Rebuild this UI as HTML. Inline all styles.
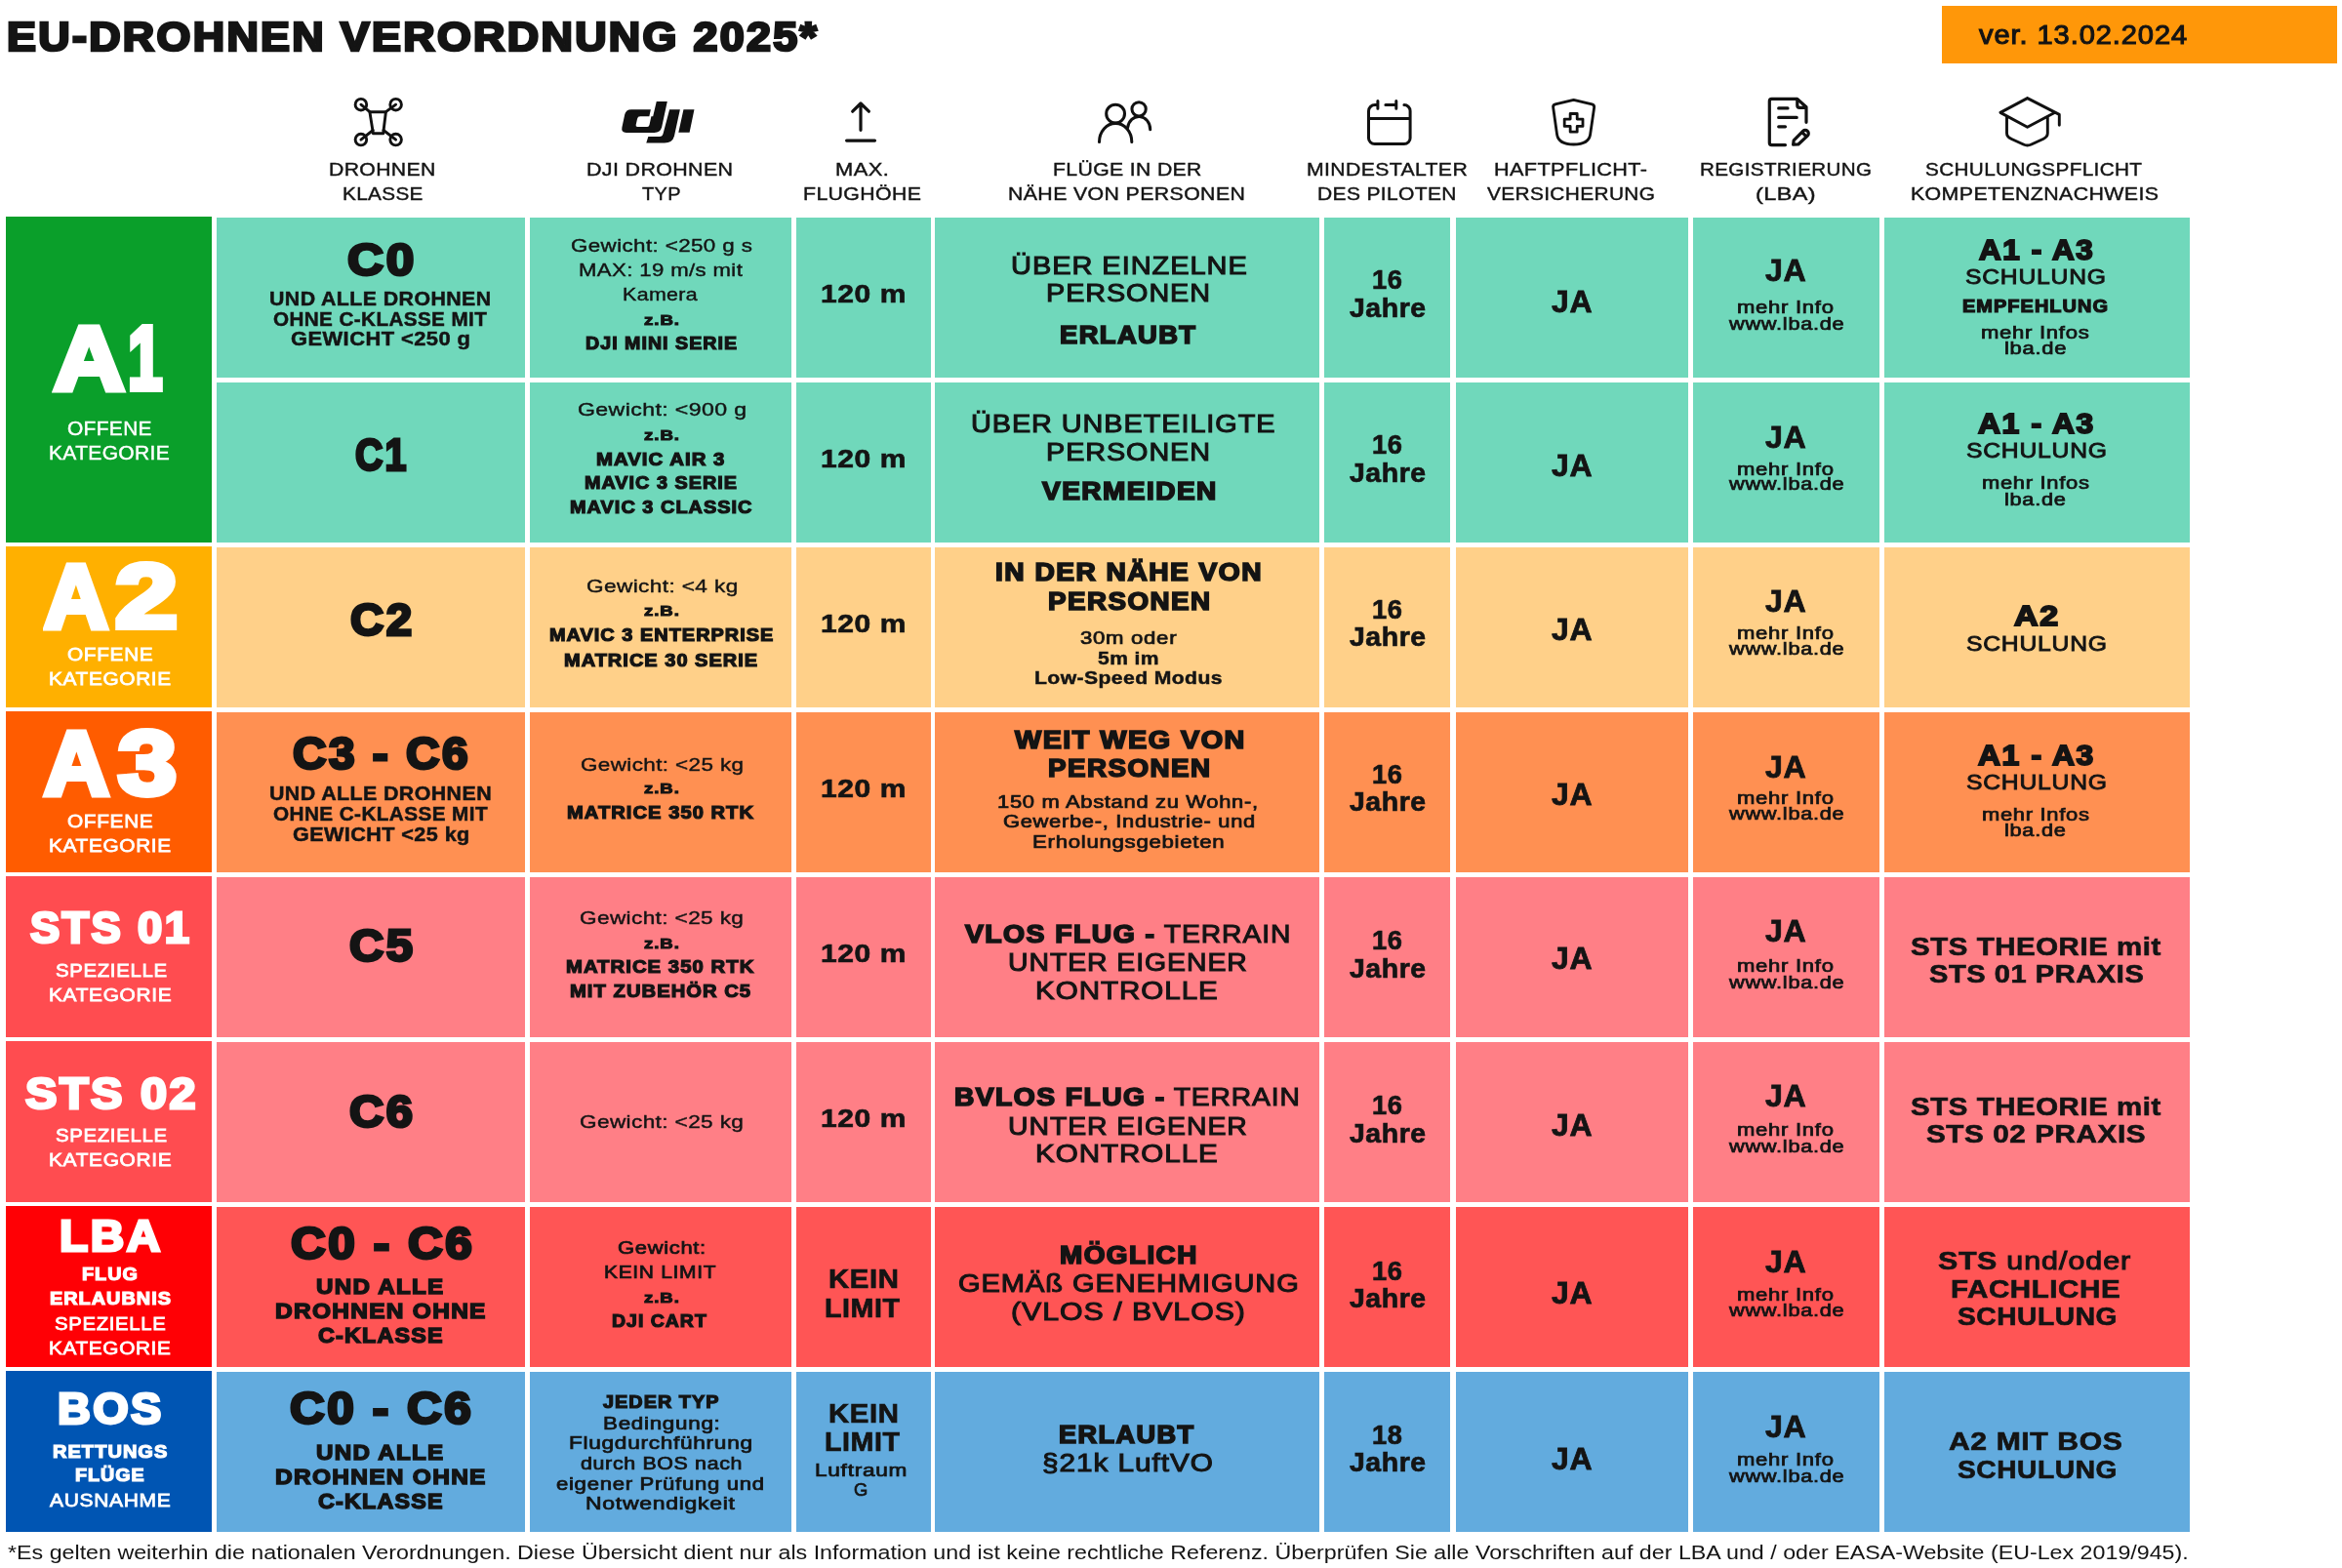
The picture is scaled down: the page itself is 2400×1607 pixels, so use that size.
<!DOCTYPE html>
<html lang="de"><head><meta charset="utf-8"><title>EU-Drohnen Verordnung 2025</title>
<style>
html,body{margin:0;padding:0;background:#fff;}
body{width:2400px;height:1607px;position:relative;overflow:hidden;font-family:"Liberation Sans",sans-serif;}
.c{position:absolute;}
.t{position:absolute;white-space:pre;line-height:1;transform-origin:0 0;color:#141414;font-weight:400;}
#w{position:absolute;left:0;top:0;width:2400px;height:1607px;will-change:transform;}
.b{font-weight:700;}
.w{color:#fff;}
svg{position:absolute;overflow:visible;}
</style></head><body><div id="w">
<div class="c" style="left:6.4px;top:222.0px;width:210.9px;height:334.4px;background:#0a9f2a"></div>
<div class="c" style="left:6.4px;top:560.0px;width:210.9px;height:165.4px;background:#ffb000"></div>
<div class="c" style="left:6.4px;top:729.0px;width:210.9px;height:165.4px;background:#ff5c00"></div>
<div class="c" style="left:6.4px;top:898.0px;width:210.9px;height:165.4px;background:#ff4c50"></div>
<div class="c" style="left:6.4px;top:1067.0px;width:210.9px;height:165.4px;background:#ff4c50"></div>
<div class="c" style="left:6.4px;top:1236.0px;width:210.9px;height:165.4px;background:#ff0005"></div>
<div class="c" style="left:6.4px;top:1405.0px;width:210.9px;height:165.4px;background:#0055b3"></div>
<div class="c" style="left:221.9px;top:222.5px;width:316.5px;height:164.2px;background:#70d8bb"></div>
<div class="c" style="left:542.7px;top:222.5px;width:268.6px;height:164.2px;background:#70d8bb"></div>
<div class="c" style="left:816.0px;top:222.5px;width:137.7px;height:164.2px;background:#70d8bb"></div>
<div class="c" style="left:958.4px;top:222.5px;width:393.9px;height:164.2px;background:#70d8bb"></div>
<div class="c" style="left:1357.2px;top:222.5px;width:129.2px;height:164.2px;background:#70d8bb"></div>
<div class="c" style="left:1491.5px;top:222.5px;width:238.7px;height:164.2px;background:#70d8bb"></div>
<div class="c" style="left:1735.1px;top:222.5px;width:190.9px;height:164.2px;background:#70d8bb"></div>
<div class="c" style="left:1930.7px;top:222.5px;width:313.8px;height:164.2px;background:#70d8bb"></div>
<div class="c" style="left:221.9px;top:391.5px;width:316.5px;height:164.2px;background:#70d8bb"></div>
<div class="c" style="left:542.7px;top:391.5px;width:268.6px;height:164.2px;background:#70d8bb"></div>
<div class="c" style="left:816.0px;top:391.5px;width:137.7px;height:164.2px;background:#70d8bb"></div>
<div class="c" style="left:958.4px;top:391.5px;width:393.9px;height:164.2px;background:#70d8bb"></div>
<div class="c" style="left:1357.2px;top:391.5px;width:129.2px;height:164.2px;background:#70d8bb"></div>
<div class="c" style="left:1491.5px;top:391.5px;width:238.7px;height:164.2px;background:#70d8bb"></div>
<div class="c" style="left:1735.1px;top:391.5px;width:190.9px;height:164.2px;background:#70d8bb"></div>
<div class="c" style="left:1930.7px;top:391.5px;width:313.8px;height:164.2px;background:#70d8bb"></div>
<div class="c" style="left:221.9px;top:560.5px;width:316.5px;height:164.2px;background:#ffd089"></div>
<div class="c" style="left:542.7px;top:560.5px;width:268.6px;height:164.2px;background:#ffd089"></div>
<div class="c" style="left:816.0px;top:560.5px;width:137.7px;height:164.2px;background:#ffd089"></div>
<div class="c" style="left:958.4px;top:560.5px;width:393.9px;height:164.2px;background:#ffd089"></div>
<div class="c" style="left:1357.2px;top:560.5px;width:129.2px;height:164.2px;background:#ffd089"></div>
<div class="c" style="left:1491.5px;top:560.5px;width:238.7px;height:164.2px;background:#ffd089"></div>
<div class="c" style="left:1735.1px;top:560.5px;width:190.9px;height:164.2px;background:#ffd089"></div>
<div class="c" style="left:1930.7px;top:560.5px;width:313.8px;height:164.2px;background:#ffd089"></div>
<div class="c" style="left:221.9px;top:729.5px;width:316.5px;height:164.2px;background:#ff9052"></div>
<div class="c" style="left:542.7px;top:729.5px;width:268.6px;height:164.2px;background:#ff9052"></div>
<div class="c" style="left:816.0px;top:729.5px;width:137.7px;height:164.2px;background:#ff9052"></div>
<div class="c" style="left:958.4px;top:729.5px;width:393.9px;height:164.2px;background:#ff9052"></div>
<div class="c" style="left:1357.2px;top:729.5px;width:129.2px;height:164.2px;background:#ff9052"></div>
<div class="c" style="left:1491.5px;top:729.5px;width:238.7px;height:164.2px;background:#ff9052"></div>
<div class="c" style="left:1735.1px;top:729.5px;width:190.9px;height:164.2px;background:#ff9052"></div>
<div class="c" style="left:1930.7px;top:729.5px;width:313.8px;height:164.2px;background:#ff9052"></div>
<div class="c" style="left:221.9px;top:898.5px;width:316.5px;height:164.2px;background:#ff7f86"></div>
<div class="c" style="left:542.7px;top:898.5px;width:268.6px;height:164.2px;background:#ff7f86"></div>
<div class="c" style="left:816.0px;top:898.5px;width:137.7px;height:164.2px;background:#ff7f86"></div>
<div class="c" style="left:958.4px;top:898.5px;width:393.9px;height:164.2px;background:#ff7f86"></div>
<div class="c" style="left:1357.2px;top:898.5px;width:129.2px;height:164.2px;background:#ff7f86"></div>
<div class="c" style="left:1491.5px;top:898.5px;width:238.7px;height:164.2px;background:#ff7f86"></div>
<div class="c" style="left:1735.1px;top:898.5px;width:190.9px;height:164.2px;background:#ff7f86"></div>
<div class="c" style="left:1930.7px;top:898.5px;width:313.8px;height:164.2px;background:#ff7f86"></div>
<div class="c" style="left:221.9px;top:1067.5px;width:316.5px;height:164.2px;background:#ff7f86"></div>
<div class="c" style="left:542.7px;top:1067.5px;width:268.6px;height:164.2px;background:#ff7f86"></div>
<div class="c" style="left:816.0px;top:1067.5px;width:137.7px;height:164.2px;background:#ff7f86"></div>
<div class="c" style="left:958.4px;top:1067.5px;width:393.9px;height:164.2px;background:#ff7f86"></div>
<div class="c" style="left:1357.2px;top:1067.5px;width:129.2px;height:164.2px;background:#ff7f86"></div>
<div class="c" style="left:1491.5px;top:1067.5px;width:238.7px;height:164.2px;background:#ff7f86"></div>
<div class="c" style="left:1735.1px;top:1067.5px;width:190.9px;height:164.2px;background:#ff7f86"></div>
<div class="c" style="left:1930.7px;top:1067.5px;width:313.8px;height:164.2px;background:#ff7f86"></div>
<div class="c" style="left:221.9px;top:1236.5px;width:316.5px;height:164.2px;background:#ff5555"></div>
<div class="c" style="left:542.7px;top:1236.5px;width:268.6px;height:164.2px;background:#ff5555"></div>
<div class="c" style="left:816.0px;top:1236.5px;width:137.7px;height:164.2px;background:#ff5555"></div>
<div class="c" style="left:958.4px;top:1236.5px;width:393.9px;height:164.2px;background:#ff5555"></div>
<div class="c" style="left:1357.2px;top:1236.5px;width:129.2px;height:164.2px;background:#ff5555"></div>
<div class="c" style="left:1491.5px;top:1236.5px;width:238.7px;height:164.2px;background:#ff5555"></div>
<div class="c" style="left:1735.1px;top:1236.5px;width:190.9px;height:164.2px;background:#ff5555"></div>
<div class="c" style="left:1930.7px;top:1236.5px;width:313.8px;height:164.2px;background:#ff5555"></div>
<div class="c" style="left:221.9px;top:1405.5px;width:316.5px;height:164.2px;background:#62abde"></div>
<div class="c" style="left:542.7px;top:1405.5px;width:268.6px;height:164.2px;background:#62abde"></div>
<div class="c" style="left:816.0px;top:1405.5px;width:137.7px;height:164.2px;background:#62abde"></div>
<div class="c" style="left:958.4px;top:1405.5px;width:393.9px;height:164.2px;background:#62abde"></div>
<div class="c" style="left:1357.2px;top:1405.5px;width:129.2px;height:164.2px;background:#62abde"></div>
<div class="c" style="left:1491.5px;top:1405.5px;width:238.7px;height:164.2px;background:#62abde"></div>
<div class="c" style="left:1735.1px;top:1405.5px;width:190.9px;height:164.2px;background:#62abde"></div>
<div class="c" style="left:1930.7px;top:1405.5px;width:313.8px;height:164.2px;background:#62abde"></div>
<div class="c" style="left:1990.0px;top:6.0px;width:405.0px;height:59.4px;background:#ff9709"></div>
<svg style="left:0;top:0" width="2400" height="220" viewBox="0 0 2400 220" fill="none" stroke="#111" stroke-linecap="round" stroke-linejoin="round">
<g stroke-width="2.9"><circle cx="369.9" cy="107.2" r="5.8"/><circle cx="405.6" cy="107.2" r="5.8"/><circle cx="369.9" cy="143.1" r="5.8"/><circle cx="405.6" cy="143.1" r="5.8"/><path d="M378.9 114.7 H395.4 L392.7 136.7 H382.4 Z"/><path d="M369.9 107.2 L378.9 114.7 M405.6 107.2 L395.4 114.7 M369.9 143.1 L382.2 133.5 M405.6 143.1 L393 133.5"/></g>
<path fill="#111" stroke="none" d="M 672.77 104.12 H 683.79 L 678.15 130.35 Q 676.77 135.99 670.47 135.99 H 641.78 Q 636.29 135.99 637.42 130.61 L 640.24 117.29 Q 641.37 112.16 646.90 112.16 H 666.88 L 665.35 119.34 H 656.12 Q 653.56 119.34 653.05 121.64 L 651.66 128.05 Q 651.25 129.94 653.30 129.94 H 663.30 Q 665.09 129.94 665.50 128.05 L 667.39 119.34 H 669.19 Z M 686.10 112.16 H 696.86 L 690.96 139.58 Q 689.17 146.49 680.97 146.49 H 662.27 L 664.32 140.09 H 675.85 Q 678.92 140.09 679.69 136.50 Z M 700.44 112.16 H 711.46 L 706.59 135.73 H 695.32 Z"/>
<path stroke-width="3.2" d="M873.7 114.2 L882 106 L890.4 114.2 M882 106.5 V133.3 M867.6 144.1 H896.5"/>
<g stroke-width="3.05"><circle cx="1143.1" cy="116.6" r="9.4"/><path d="M1126.5 145.5 A16.65 19.1 0 0 1 1159.8 145.5"/><circle cx="1167.1" cy="111.8" r="7.15"/><path d="M1178.7 132.7 A11.6 13.2 0 0 0 1155.6 130.9"/></g>
<path stroke-width="3" d="M1411.9 107.5 H1409 A6.5 6.5 0 0 0 1402.5 114 V141.4 A6.2 6.2 0 0 0 1408.7 147.6 H1438.9 A6.2 6.2 0 0 0 1445.1 141.4 V113.7 A6.2 6.2 0 0 0 1438.9 107.5 M1430.8 107.5 H1419.9 M1411.9 103.6 V111.3 M1430.8 103.6 V111.3 M1402.5 121.5 H1445.1"/>
<path stroke-width="2.8" d="M1612.6 102.3 L1631.5 106.9 Q1634.2 107.7 1633.6 110.5 L1629.6 138 Q1628 148 1612.6 148 Q1597.2 148 1595.6 138 L1591.7 110.5 Q1591 107.7 1593.7 106.9 Z M1609.15 116.5 H1616.2 V122.1 H1622 V129.4 H1616.2 V135.2 H1609.15 V129.4 H1603.2 V122.1 H1609.15 Z"/>
<path stroke-width="3.2" d="M1829.5 148.6 H1815.6 A2.3 2.3 0 0 1 1813.3 146.3 V103.7 A2.3 2.3 0 0 1 1815.6 101.4 H1841.8 L1851 109.7 V125.3 M1841.8 101.8 V108 A2.3 2.3 0 0 0 1844.1 110.3 H1850.8 M1822.7 110.9 H1832 M1822.7 120.4 H1841.2 M1822.7 129.8 H1829.5"/>
<path stroke-width="3.2" d="M1837.6 148.2 L1838.2 143.8 L1847.6 134.4 A3.3 3.3 0 0 1 1852.3 134.4 A3.3 3.3 0 0 1 1852.3 139.1 L1842.8 148 Z M1846.6 135.4 L1851.3 140.1"/>
<path stroke-width="2.9" d="M2077.6 100.6 L2049.9 115.4 L2077.6 130.2 L2105.9 115.2 M2077.6 100.6 L2110.3 117.4 V128.2 M2056.5 120.1 V136.6 Q2056.5 140.3 2060.9 142.2 L2073.5 148 Q2077.6 150 2081.7 148 L2094.2 142.2 Q2098.3 140.3 2098.3 136.6 V120.1"/>
</svg>
<div class="t" style="left:336.72px;top:164px;font-size:19.01px;transform:scaleX(1.1151);letter-spacing:0.33px;-webkit-text-stroke:0.42px #141414;">DROHNEN</div>
<div class="t" style="left:350.54px;top:189px;font-size:19.01px;transform:scaleX(1.0908);letter-spacing:0.33px;-webkit-text-stroke:0.42px #141414;">KLASSE</div>
<div class="t" style="left:601.01px;top:164px;font-size:19.01px;transform:scaleX(1.1268);letter-spacing:0.33px;-webkit-text-stroke:0.42px #141414;">DJI DROHNEN</div>
<div class="t" style="left:657.82px;top:189px;font-size:19.01px;transform:scaleX(1.0491);letter-spacing:0.33px;-webkit-text-stroke:0.42px #141414;">TYP</div>
<div class="t" style="left:856.49px;top:164px;font-size:19.01px;transform:scaleX(1.1536);letter-spacing:0.33px;-webkit-text-stroke:0.42px #141414;">MAX.</div>
<div class="t" style="left:823.01px;top:189px;font-size:19.01px;transform:scaleX(1.1214);letter-spacing:0.33px;-webkit-text-stroke:0.42px #141414;">FLUGHÖHE</div>
<div class="t" style="left:1078.52px;top:164px;font-size:19.01px;transform:scaleX(1.1152);letter-spacing:0.33px;-webkit-text-stroke:0.42px #141414;">FLÜGE IN DER</div>
<div class="t" style="left:1033.11px;top:189px;font-size:19.01px;transform:scaleX(1.1222);letter-spacing:0.33px;-webkit-text-stroke:0.42px #141414;">NÄHE VON PERSONEN</div>
<div class="t" style="left:1338.82px;top:164px;font-size:19.01px;transform:scaleX(1.1162);letter-spacing:0.33px;-webkit-text-stroke:0.42px #141414;">MINDESTALTER</div>
<div class="t" style="left:1349.73px;top:189px;font-size:19.01px;transform:scaleX(1.1050);letter-spacing:0.33px;-webkit-text-stroke:0.42px #141414;">DES PILOTEN</div>
<div class="t" style="left:1531.10px;top:164px;font-size:19.01px;transform:scaleX(1.1401);letter-spacing:0.33px;-webkit-text-stroke:0.42px #141414;">HAFTPFLICHT-</div>
<div class="t" style="left:1524.23px;top:189px;font-size:19.01px;transform:scaleX(1.0972);letter-spacing:0.33px;-webkit-text-stroke:0.42px #141414;">VERSICHERUNG</div>
<div class="t" style="left:1741.54px;top:164px;font-size:19.01px;transform:scaleX(1.0845);letter-spacing:0.33px;-webkit-text-stroke:0.42px #141414;">REGISTRIERUNG</div>
<div class="t" style="left:1798.82px;top:189px;font-size:19.01px;transform:scaleX(1.2348);letter-spacing:0.33px;-webkit-text-stroke:0.42px #141414;">(LBA)</div>
<div class="t" style="left:1973.23px;top:164px;font-size:19.01px;transform:scaleX(1.0915);letter-spacing:0.33px;-webkit-text-stroke:0.42px #141414;">SCHULUNGSPFLICHT</div>
<div class="t" style="left:1957.81px;top:189px;font-size:19.01px;transform:scaleX(1.1245);letter-spacing:0.33px;-webkit-text-stroke:0.42px #141414;">KOMPETENZNACHWEIS</div>
<div class="t b" style="left:841.05px;top:288px;font-size:26.65px;transform:scaleX(1.1251);letter-spacing:0.53px;-webkit-text-stroke:0.67px #141414;">120 m</div>
<div class="t b" style="left:1406.43px;top:274px;font-size:26.93px;transform:scaleX(1.0111);letter-spacing:0.54px;-webkit-text-stroke:0.67px #141414;">16</div>
<div class="t b" style="left:1383.16px;top:303px;font-size:26.93px;transform:scaleX(1.0554);letter-spacing:0.54px;-webkit-text-stroke:0.67px #141414;">Jahre</div>
<div class="t b" style="left:1589.70px;top:293px;font-size:32.26px;transform:scaleX(0.9909);letter-spacing:0.65px;-webkit-text-stroke:0.81px #141414;">JA</div>
<div class="t b" style="left:1809.00px;top:261px;font-size:32.26px;transform:scaleX(0.9979);letter-spacing:0.65px;-webkit-text-stroke:0.81px #141414;">JA</div>
<div class="t" style="left:1779.61px;top:307px;font-size:17.86px;transform:scaleX(1.2366);letter-spacing:0.57px;-webkit-text-stroke:0.71px #141414;">mehr Info</div>
<div class="t" style="left:1771.86px;top:324px;font-size:17.86px;transform:scaleX(1.2202);letter-spacing:0.57px;-webkit-text-stroke:0.71px #141414;">www.lba.de</div>
<div class="t b" style="left:841.05px;top:457px;font-size:26.65px;transform:scaleX(1.1251);letter-spacing:0.53px;-webkit-text-stroke:0.67px #141414;">120 m</div>
<div class="t b" style="left:1406.43px;top:443px;font-size:26.93px;transform:scaleX(1.0111);letter-spacing:0.54px;-webkit-text-stroke:0.67px #141414;">16</div>
<div class="t b" style="left:1383.16px;top:472px;font-size:26.93px;transform:scaleX(1.0554);letter-spacing:0.54px;-webkit-text-stroke:0.67px #141414;">Jahre</div>
<div class="t b" style="left:1589.70px;top:461px;font-size:32.26px;transform:scaleX(0.9909);letter-spacing:0.65px;-webkit-text-stroke:0.81px #141414;">JA</div>
<div class="t b" style="left:1809.00px;top:432px;font-size:32.26px;transform:scaleX(0.9979);letter-spacing:0.65px;-webkit-text-stroke:0.81px #141414;">JA</div>
<div class="t" style="left:1779.61px;top:473px;font-size:17.86px;transform:scaleX(1.2366);letter-spacing:0.57px;-webkit-text-stroke:0.71px #141414;">mehr Info</div>
<div class="t" style="left:1771.86px;top:488px;font-size:17.86px;transform:scaleX(1.2202);letter-spacing:0.57px;-webkit-text-stroke:0.71px #141414;">www.lba.de</div>
<div class="t b" style="left:841.05px;top:626px;font-size:26.65px;transform:scaleX(1.1251);letter-spacing:0.53px;-webkit-text-stroke:0.67px #141414;">120 m</div>
<div class="t b" style="left:1406.43px;top:612px;font-size:26.93px;transform:scaleX(1.0111);letter-spacing:0.54px;-webkit-text-stroke:0.67px #141414;">16</div>
<div class="t b" style="left:1383.16px;top:640px;font-size:26.93px;transform:scaleX(1.0554);letter-spacing:0.54px;-webkit-text-stroke:0.67px #141414;">Jahre</div>
<div class="t b" style="left:1589.70px;top:629px;font-size:32.26px;transform:scaleX(0.9909);letter-spacing:0.65px;-webkit-text-stroke:0.81px #141414;">JA</div>
<div class="t b" style="left:1809.00px;top:600px;font-size:32.26px;transform:scaleX(0.9979);letter-spacing:0.65px;-webkit-text-stroke:0.81px #141414;">JA</div>
<div class="t" style="left:1779.61px;top:641px;font-size:17.86px;transform:scaleX(1.2366);letter-spacing:0.57px;-webkit-text-stroke:0.71px #141414;">mehr Info</div>
<div class="t" style="left:1771.86px;top:657px;font-size:17.86px;transform:scaleX(1.2202);letter-spacing:0.57px;-webkit-text-stroke:0.71px #141414;">www.lba.de</div>
<div class="t b" style="left:841.05px;top:795px;font-size:26.65px;transform:scaleX(1.1251);letter-spacing:0.53px;-webkit-text-stroke:0.67px #141414;">120 m</div>
<div class="t b" style="left:1406.43px;top:781px;font-size:26.93px;transform:scaleX(1.0111);letter-spacing:0.54px;-webkit-text-stroke:0.67px #141414;">16</div>
<div class="t b" style="left:1383.16px;top:809px;font-size:26.93px;transform:scaleX(1.0554);letter-spacing:0.54px;-webkit-text-stroke:0.67px #141414;">Jahre</div>
<div class="t b" style="left:1589.70px;top:798px;font-size:32.26px;transform:scaleX(0.9909);letter-spacing:0.65px;-webkit-text-stroke:0.81px #141414;">JA</div>
<div class="t b" style="left:1809.00px;top:770px;font-size:32.26px;transform:scaleX(0.9979);letter-spacing:0.65px;-webkit-text-stroke:0.81px #141414;">JA</div>
<div class="t" style="left:1779.61px;top:810px;font-size:17.86px;transform:scaleX(1.2366);letter-spacing:0.57px;-webkit-text-stroke:0.71px #141414;">mehr Info</div>
<div class="t" style="left:1771.86px;top:826px;font-size:17.86px;transform:scaleX(1.2202);letter-spacing:0.57px;-webkit-text-stroke:0.71px #141414;">www.lba.de</div>
<div class="t b" style="left:841.05px;top:964px;font-size:26.65px;transform:scaleX(1.1251);letter-spacing:0.53px;-webkit-text-stroke:0.67px #141414;">120 m</div>
<div class="t b" style="left:1406.43px;top:951px;font-size:26.93px;transform:scaleX(1.0111);letter-spacing:0.54px;-webkit-text-stroke:0.67px #141414;">16</div>
<div class="t b" style="left:1383.16px;top:980px;font-size:26.93px;transform:scaleX(1.0554);letter-spacing:0.54px;-webkit-text-stroke:0.67px #141414;">Jahre</div>
<div class="t b" style="left:1589.70px;top:966px;font-size:32.26px;transform:scaleX(0.9909);letter-spacing:0.65px;-webkit-text-stroke:0.81px #141414;">JA</div>
<div class="t b" style="left:1809.00px;top:938px;font-size:32.26px;transform:scaleX(0.9979);letter-spacing:0.65px;-webkit-text-stroke:0.81px #141414;">JA</div>
<div class="t" style="left:1779.61px;top:982px;font-size:17.86px;transform:scaleX(1.2366);letter-spacing:0.57px;-webkit-text-stroke:0.71px #141414;">mehr Info</div>
<div class="t" style="left:1771.86px;top:999px;font-size:17.86px;transform:scaleX(1.2202);letter-spacing:0.57px;-webkit-text-stroke:0.71px #141414;">www.lba.de</div>
<div class="t b" style="left:841.05px;top:1133px;font-size:26.65px;transform:scaleX(1.1251);letter-spacing:0.53px;-webkit-text-stroke:0.67px #141414;">120 m</div>
<div class="t b" style="left:1406.43px;top:1120px;font-size:26.93px;transform:scaleX(1.0111);letter-spacing:0.54px;-webkit-text-stroke:0.67px #141414;">16</div>
<div class="t b" style="left:1383.16px;top:1149px;font-size:26.93px;transform:scaleX(1.0554);letter-spacing:0.54px;-webkit-text-stroke:0.67px #141414;">Jahre</div>
<div class="t b" style="left:1589.70px;top:1137px;font-size:32.26px;transform:scaleX(0.9909);letter-spacing:0.65px;-webkit-text-stroke:0.81px #141414;">JA</div>
<div class="t b" style="left:1809.00px;top:1107px;font-size:32.26px;transform:scaleX(0.9979);letter-spacing:0.65px;-webkit-text-stroke:0.81px #141414;">JA</div>
<div class="t" style="left:1779.61px;top:1150px;font-size:17.86px;transform:scaleX(1.2366);letter-spacing:0.57px;-webkit-text-stroke:0.71px #141414;">mehr Info</div>
<div class="t" style="left:1771.86px;top:1167px;font-size:17.86px;transform:scaleX(1.2202);letter-spacing:0.57px;-webkit-text-stroke:0.71px #141414;">www.lba.de</div>
<div class="t b" style="left:1406.43px;top:1290px;font-size:26.93px;transform:scaleX(1.0111);letter-spacing:0.54px;-webkit-text-stroke:0.67px #141414;">16</div>
<div class="t b" style="left:1383.16px;top:1318px;font-size:26.93px;transform:scaleX(1.0554);letter-spacing:0.54px;-webkit-text-stroke:0.67px #141414;">Jahre</div>
<div class="t b" style="left:1589.70px;top:1309px;font-size:32.26px;transform:scaleX(0.9909);letter-spacing:0.65px;-webkit-text-stroke:0.81px #141414;">JA</div>
<div class="t b" style="left:1809.00px;top:1277px;font-size:32.26px;transform:scaleX(0.9979);letter-spacing:0.65px;-webkit-text-stroke:0.81px #141414;">JA</div>
<div class="t" style="left:1779.61px;top:1319px;font-size:17.86px;transform:scaleX(1.2366);letter-spacing:0.57px;-webkit-text-stroke:0.71px #141414;">mehr Info</div>
<div class="t" style="left:1771.86px;top:1335px;font-size:17.86px;transform:scaleX(1.2202);letter-spacing:0.57px;-webkit-text-stroke:0.71px #141414;">www.lba.de</div>
<div class="t b" style="left:1405.93px;top:1458px;font-size:26.93px;transform:scaleX(1.0107);letter-spacing:0.54px;-webkit-text-stroke:0.67px #141414;">18</div>
<div class="t b" style="left:1383.16px;top:1486px;font-size:26.93px;transform:scaleX(1.0554);letter-spacing:0.54px;-webkit-text-stroke:0.67px #141414;">Jahre</div>
<div class="t b" style="left:1589.70px;top:1479px;font-size:32.26px;transform:scaleX(0.9909);letter-spacing:0.65px;-webkit-text-stroke:0.81px #141414;">JA</div>
<div class="t b" style="left:1809.00px;top:1446px;font-size:32.26px;transform:scaleX(0.9979);letter-spacing:0.65px;-webkit-text-stroke:0.81px #141414;">JA</div>
<div class="t" style="left:1779.61px;top:1488px;font-size:17.86px;transform:scaleX(1.2366);letter-spacing:0.57px;-webkit-text-stroke:0.71px #141414;">mehr Info</div>
<div class="t" style="left:1771.86px;top:1505px;font-size:17.86px;transform:scaleX(1.2202);letter-spacing:0.57px;-webkit-text-stroke:0.71px #141414;">www.lba.de</div>
<div class="t b" style="left:355.63px;top:242px;font-size:47.15px;transform:scaleX(1.0889);letter-spacing:2.45px;-webkit-text-stroke:3.06px #141414;">C0</div>
<div class="t b" style="left:275.57px;top:297px;font-size:19.36px;transform:scaleX(1.1010);letter-spacing:0.39px;-webkit-text-stroke:0.48px #141414;">UND ALLE DROHNEN</div>
<div class="t b" style="left:279.96px;top:318px;font-size:19.36px;transform:scaleX(1.0663);letter-spacing:0.39px;-webkit-text-stroke:0.48px #141414;">OHNE C-KLASSE MIT</div>
<div class="t b" style="left:297.97px;top:338px;font-size:19.36px;transform:scaleX(1.1309);letter-spacing:0.39px;-webkit-text-stroke:0.48px #141414;">GEWICHT &lt;250 g</div>
<div class="t" style="left:585.05px;top:243px;font-size:18.31px;transform:scaleX(1.2220);letter-spacing:0.32px;-webkit-text-stroke:0.40px #141414;">Gewicht: &lt;250 g s</div>
<div class="t" style="left:593.33px;top:268px;font-size:18.31px;transform:scaleX(1.2099);letter-spacing:0.32px;-webkit-text-stroke:0.40px #141414;">MAX: 19 m/s mit</div>
<div class="t" style="left:638.07px;top:293px;font-size:18.31px;transform:scaleX(1.1684);letter-spacing:0.32px;-webkit-text-stroke:0.40px #141414;">Kamera</div>
<div class="t b" style="left:659.61px;top:320px;font-size:15.54px;transform:scaleX(1.1984);letter-spacing:0.81px;-webkit-text-stroke:1.01px #141414;">z.B.</div>
<div class="t b" style="left:599.78px;top:343px;font-size:18.59px;transform:scaleX(1.0560);letter-spacing:0.97px;-webkit-text-stroke:1.21px #141414;">DJI MINI SERIE</div>
<div class="t" style="left:1035.89px;top:260px;font-size:25.55px;transform:scaleX(1.1361);letter-spacing:0.82px;-webkit-text-stroke:1.02px #141414;">ÜBER EINZELNE</div>
<div class="t" style="left:1072.32px;top:288px;font-size:25.55px;transform:scaleX(1.1269);letter-spacing:0.82px;-webkit-text-stroke:1.02px #141414;">PERSONEN</div>
<div class="t b" style="left:1085.97px;top:331px;font-size:25.63px;transform:scaleX(1.0660);letter-spacing:1.33px;-webkit-text-stroke:1.67px #141414;">ERLAUBT</div>
<div class="t b" style="left:2027.77px;top:241px;font-size:30.28px;transform:scaleX(1.0369);letter-spacing:1.57px;-webkit-text-stroke:1.97px #141414;">A1 - A3</div>
<div class="t" style="left:2014.49px;top:273px;font-size:21.70px;transform:scaleX(1.1377);letter-spacing:0.69px;-webkit-text-stroke:0.87px #141414;">SCHULUNG</div>
<div class="t b" style="left:2011.06px;top:305px;font-size:18.33px;transform:scaleX(1.0884);letter-spacing:0.95px;-webkit-text-stroke:1.19px #141414;">EMPFEHLUNG</div>
<div class="t" style="left:2030.20px;top:333px;font-size:17.86px;transform:scaleX(1.2372);letter-spacing:0.57px;-webkit-text-stroke:0.71px #141414;">mehr Infos</div>
<div class="t" style="left:2053.56px;top:349px;font-size:17.86px;transform:scaleX(1.2309);letter-spacing:0.57px;-webkit-text-stroke:0.71px #141414;">lba.de</div>
<div class="t b" style="left:363.94px;top:442px;font-size:47.15px;transform:scaleX(0.8340);letter-spacing:2.45px;-webkit-text-stroke:3.06px #141414;">C1</div>
<div class="t" style="left:592.05px;top:411px;font-size:18.31px;transform:scaleX(1.2618);letter-spacing:0.32px;-webkit-text-stroke:0.40px #141414;">Gewicht: &lt;900 g</div>
<div class="t b" style="left:659.61px;top:438px;font-size:15.54px;transform:scaleX(1.1984);letter-spacing:0.81px;-webkit-text-stroke:1.01px #141414;">z.B.</div>
<div class="t b" style="left:611.37px;top:462px;font-size:18.59px;transform:scaleX(1.0938);letter-spacing:0.97px;-webkit-text-stroke:1.21px #141414;">MAVIC AIR 3</div>
<div class="t b" style="left:599.08px;top:486px;font-size:18.59px;transform:scaleX(1.0649);letter-spacing:0.97px;-webkit-text-stroke:1.21px #141414;">MAVIC 3 SERIE</div>
<div class="t b" style="left:584.38px;top:511px;font-size:18.59px;transform:scaleX(1.0701);letter-spacing:0.97px;-webkit-text-stroke:1.21px #141414;">MAVIC 3 CLASSIC</div>
<div class="t" style="left:995.40px;top:422px;font-size:25.55px;transform:scaleX(1.1296);letter-spacing:0.82px;-webkit-text-stroke:1.02px #141414;">ÜBER UNBETEILIGTE</div>
<div class="t" style="left:1072.32px;top:451px;font-size:25.55px;transform:scaleX(1.1269);letter-spacing:0.82px;-webkit-text-stroke:1.02px #141414;">PERSONEN</div>
<div class="t b" style="left:1067.86px;top:491px;font-size:25.63px;transform:scaleX(1.0939);letter-spacing:1.33px;-webkit-text-stroke:1.67px #141414;">VERMEIDEN</div>
<div class="t b" style="left:2027.48px;top:419px;font-size:30.28px;transform:scaleX(1.0509);letter-spacing:1.57px;-webkit-text-stroke:1.97px #141414;">A1 - A3</div>
<div class="t" style="left:2014.94px;top:451px;font-size:21.70px;transform:scaleX(1.1385);letter-spacing:0.69px;-webkit-text-stroke:0.87px #141414;">SCHULUNG</div>
<div class="t" style="left:2030.91px;top:487px;font-size:17.86px;transform:scaleX(1.2283);letter-spacing:0.57px;-webkit-text-stroke:0.71px #141414;">mehr Infos</div>
<div class="t" style="left:2053.67px;top:504px;font-size:17.86px;transform:scaleX(1.2192);letter-spacing:0.57px;-webkit-text-stroke:0.71px #141414;">lba.de</div>
<div class="t b" style="left:358.64px;top:611px;font-size:47.15px;transform:scaleX(1.0071);letter-spacing:2.45px;-webkit-text-stroke:3.06px #141414;">C2</div>
<div class="t" style="left:600.75px;top:592px;font-size:18.31px;transform:scaleX(1.2349);letter-spacing:0.32px;-webkit-text-stroke:0.40px #141414;">Gewicht: &lt;4 kg</div>
<div class="t b" style="left:660.00px;top:618px;font-size:15.54px;transform:scaleX(1.1919);letter-spacing:0.81px;-webkit-text-stroke:1.01px #141414;">z.B.</div>
<div class="t b" style="left:562.88px;top:642px;font-size:18.59px;transform:scaleX(1.0700);letter-spacing:0.97px;-webkit-text-stroke:1.21px #141414;">MAVIC 3 ENTERPRISE</div>
<div class="t b" style="left:578.18px;top:668px;font-size:18.59px;transform:scaleX(1.0738);letter-spacing:0.97px;-webkit-text-stroke:1.21px #141414;">MATRICE 30 SERIE</div>
<div class="t b" style="left:1020.05px;top:574px;font-size:25.23px;transform:scaleX(1.1176);letter-spacing:1.31px;-webkit-text-stroke:1.64px #141414;">IN DER NÄHE VON</div>
<div class="t b" style="left:1073.60px;top:604px;font-size:25.23px;transform:scaleX(1.1016);letter-spacing:1.31px;-webkit-text-stroke:1.64px #141414;">PERSONEN</div>
<div class="t" style="left:1106.84px;top:646px;font-size:17.86px;transform:scaleX(1.2401);letter-spacing:0.57px;-webkit-text-stroke:0.71px #141414;">30m oder</div>
<div class="t b" style="left:1125.06px;top:666px;font-size:18.23px;transform:scaleX(1.1569);letter-spacing:0.36px;-webkit-text-stroke:0.46px #141414;">5m im</div>
<div class="t b" style="left:1059.70px;top:686px;font-size:18.23px;transform:scaleX(1.1599);letter-spacing:0.36px;-webkit-text-stroke:0.46px #141414;">Low-Speed Modus</div>
<div class="t b" style="left:2064.41px;top:616px;font-size:30.28px;transform:scaleX(1.1232);letter-spacing:1.57px;-webkit-text-stroke:1.97px #141414;">A2</div>
<div class="t" style="left:2014.94px;top:649px;font-size:21.70px;transform:scaleX(1.1385);letter-spacing:0.69px;-webkit-text-stroke:0.87px #141414;">SCHULUNG</div>
<div class="t b" style="left:299.84px;top:748px;font-size:47.15px;transform:scaleX(1.0139);letter-spacing:2.45px;-webkit-text-stroke:3.06px #141414;">C3 - C6</div>
<div class="t b" style="left:276.16px;top:804px;font-size:19.36px;transform:scaleX(1.1034);letter-spacing:0.39px;-webkit-text-stroke:0.48px #141414;">UND ALLE DROHNEN</div>
<div class="t b" style="left:280.46px;top:825px;font-size:19.36px;transform:scaleX(1.0701);letter-spacing:0.39px;-webkit-text-stroke:0.48px #141414;">OHNE C-KLASSE MIT</div>
<div class="t b" style="left:300.17px;top:846px;font-size:19.36px;transform:scaleX(1.1143);letter-spacing:0.39px;-webkit-text-stroke:0.48px #141414;">GEWICHT &lt;25 kg</div>
<div class="t" style="left:594.75px;top:775px;font-size:18.31px;transform:scaleX(1.2263);letter-spacing:0.32px;-webkit-text-stroke:0.40px #141414;">Gewicht: &lt;25 kg</div>
<div class="t b" style="left:660.00px;top:800px;font-size:15.54px;transform:scaleX(1.1919);letter-spacing:0.81px;-webkit-text-stroke:1.01px #141414;">z.B.</div>
<div class="t b" style="left:581.07px;top:824px;font-size:18.59px;transform:scaleX(1.0832);letter-spacing:0.97px;-webkit-text-stroke:1.21px #141414;">MATRICE 350 RTK</div>
<div class="t b" style="left:1039.54px;top:746px;font-size:25.23px;transform:scaleX(1.1402);letter-spacing:1.31px;-webkit-text-stroke:1.64px #141414;">WEIT WEG VON</div>
<div class="t b" style="left:1073.60px;top:775px;font-size:25.23px;transform:scaleX(1.1016);letter-spacing:1.31px;-webkit-text-stroke:1.64px #141414;">PERSONEN</div>
<div class="t" style="left:1022.41px;top:814px;font-size:17.86px;transform:scaleX(1.2268);letter-spacing:0.57px;-webkit-text-stroke:0.71px #141414;">150 m Abstand zu Wohn-,</div>
<div class="t" style="left:1027.64px;top:834px;font-size:17.86px;transform:scaleX(1.2258);letter-spacing:0.57px;-webkit-text-stroke:0.71px #141414;">Gewerbe-, Industrie- und</div>
<div class="t" style="left:1057.95px;top:855px;font-size:17.86px;transform:scaleX(1.2440);letter-spacing:0.57px;-webkit-text-stroke:0.71px #141414;">Erholungsgebieten</div>
<div class="t b" style="left:2027.48px;top:759px;font-size:30.28px;transform:scaleX(1.0509);letter-spacing:1.57px;-webkit-text-stroke:1.97px #141414;">A1 - A3</div>
<div class="t" style="left:2014.94px;top:791px;font-size:21.70px;transform:scaleX(1.1385);letter-spacing:0.69px;-webkit-text-stroke:0.87px #141414;">SCHULUNG</div>
<div class="t" style="left:2030.91px;top:827px;font-size:17.86px;transform:scaleX(1.2283);letter-spacing:0.57px;-webkit-text-stroke:0.71px #141414;">mehr Infos</div>
<div class="t" style="left:2053.67px;top:843px;font-size:17.86px;transform:scaleX(1.2192);letter-spacing:0.57px;-webkit-text-stroke:0.71px #141414;">lba.de</div>
<div class="t b" style="left:358.05px;top:945px;font-size:47.15px;transform:scaleX(1.0370);letter-spacing:2.45px;-webkit-text-stroke:3.06px #141414;">C5</div>
<div class="t" style="left:593.75px;top:932px;font-size:18.31px;transform:scaleX(1.2330);letter-spacing:0.32px;-webkit-text-stroke:0.40px #141414;">Gewicht: &lt;25 kg</div>
<div class="t b" style="left:659.80px;top:959px;font-size:15.54px;transform:scaleX(1.1919);letter-spacing:0.81px;-webkit-text-stroke:1.01px #141414;">z.B.</div>
<div class="t b" style="left:580.37px;top:982px;font-size:18.59px;transform:scaleX(1.0905);letter-spacing:0.97px;-webkit-text-stroke:1.21px #141414;">MATRICE 350 RTK</div>
<div class="t b" style="left:584.17px;top:1007px;font-size:18.59px;transform:scaleX(1.0854);letter-spacing:0.97px;-webkit-text-stroke:1.21px #141414;">MIT ZUBEHÖR C5</div>
<div class="t" style="left:988.57px;top:945px;font-size:25.55px;transform:scaleX(1.1082);letter-spacing:0.82px;-webkit-text-stroke:1.02px #141414;"><span style="font-weight:700;letter-spacing:1.33px;-webkit-text-stroke:1.66px #141414;">VLOS FLUG -</span><span style="font-weight:400;letter-spacing:0.82px;-webkit-text-stroke:1.02px #141414;"> TERRAIN</span></div>
<div class="t" style="left:1032.56px;top:974px;font-size:25.55px;transform:scaleX(1.1133);letter-spacing:0.82px;-webkit-text-stroke:1.02px #141414;">UNTER EIGENER</div>
<div class="t" style="left:1061.48px;top:1003px;font-size:25.55px;transform:scaleX(1.1584);letter-spacing:0.82px;-webkit-text-stroke:1.02px #141414;">KONTROLLE</div>
<div class="t b" style="left:1957.87px;top:957px;font-size:26.23px;transform:scaleX(1.1206);letter-spacing:0.52px;-webkit-text-stroke:0.66px #141414;">STS THEORIE mit</div>
<div class="t b" style="left:1976.56px;top:985px;font-size:26.23px;transform:scaleX(1.1066);letter-spacing:0.52px;-webkit-text-stroke:0.66px #141414;">STS 01 PRAXIS</div>
<div class="t b" style="left:358.05px;top:1115px;font-size:47.15px;transform:scaleX(1.0370);letter-spacing:2.45px;-webkit-text-stroke:3.06px #141414;">C6</div>
<div class="t" style="left:593.75px;top:1141px;font-size:18.31px;transform:scaleX(1.2330);letter-spacing:0.32px;-webkit-text-stroke:0.40px #141414;">Gewicht: &lt;25 kg</div>
<div class="t" style="left:977.56px;top:1112px;font-size:25.55px;transform:scaleX(1.1035);letter-spacing:0.82px;-webkit-text-stroke:1.02px #141414;"><span style="font-weight:700;letter-spacing:1.33px;-webkit-text-stroke:1.66px #141414;">BVLOS FLUG -</span><span style="font-weight:400;letter-spacing:0.82px;-webkit-text-stroke:1.02px #141414;"> TERRAIN</span></div>
<div class="t" style="left:1032.56px;top:1142px;font-size:25.55px;transform:scaleX(1.1133);letter-spacing:0.82px;-webkit-text-stroke:1.02px #141414;">UNTER EIGENER</div>
<div class="t" style="left:1061.48px;top:1170px;font-size:25.55px;transform:scaleX(1.1584);letter-spacing:0.82px;-webkit-text-stroke:1.02px #141414;">KONTROLLE</div>
<div class="t b" style="left:1957.87px;top:1121px;font-size:26.23px;transform:scaleX(1.1206);letter-spacing:0.52px;-webkit-text-stroke:0.66px #141414;">STS THEORIE mit</div>
<div class="t b" style="left:1973.97px;top:1149px;font-size:26.23px;transform:scaleX(1.1308);letter-spacing:0.52px;-webkit-text-stroke:0.66px #141414;">STS 02 PRAXIS</div>
<div class="t b" style="left:297.66px;top:1250px;font-size:47.15px;transform:scaleX(1.0493);letter-spacing:2.45px;-webkit-text-stroke:3.06px #141414;">C0 - C6</div>
<div class="t b" style="left:324.40px;top:1308px;font-size:22.31px;transform:scaleX(1.0838);letter-spacing:1.16px;-webkit-text-stroke:1.45px #141414;">UND ALLE</div>
<div class="t b" style="left:282.15px;top:1333px;font-size:22.31px;transform:scaleX(1.0987);letter-spacing:1.16px;-webkit-text-stroke:1.45px #141414;">DROHNEN OHNE</div>
<div class="t b" style="left:326.41px;top:1358px;font-size:22.31px;transform:scaleX(1.0435);letter-spacing:1.16px;-webkit-text-stroke:1.45px #141414;">C-KLASSE</div>
<div class="t" style="left:632.84px;top:1271px;font-size:17.58px;transform:scaleX(1.2476);letter-spacing:0.56px;-webkit-text-stroke:0.70px #141414;">Gewicht:</div>
<div class="t" style="left:618.83px;top:1296px;font-size:17.58px;transform:scaleX(1.1944);letter-spacing:0.56px;-webkit-text-stroke:0.70px #141414;">KEIN LIMIT</div>
<div class="t b" style="left:659.80px;top:1322px;font-size:15.54px;transform:scaleX(1.1919);letter-spacing:0.81px;-webkit-text-stroke:1.01px #141414;">z.B.</div>
<div class="t b" style="left:627.49px;top:1345px;font-size:18.59px;transform:scaleX(1.0472);letter-spacing:0.97px;-webkit-text-stroke:1.21px #141414;">DJI CART</div>
<div class="t b" style="left:848.88px;top:1298px;font-size:26.93px;transform:scaleX(1.0913);letter-spacing:0.54px;-webkit-text-stroke:0.67px #141414;">KEIN</div>
<div class="t b" style="left:844.79px;top:1328px;font-size:26.93px;transform:scaleX(1.0643);letter-spacing:0.54px;-webkit-text-stroke:0.67px #141414;">LIMIT</div>
<div class="t b" style="left:1085.70px;top:1274px;font-size:25.23px;transform:scaleX(1.1054);letter-spacing:1.31px;-webkit-text-stroke:1.64px #141414;">MÖGLICH</div>
<div class="t" style="left:981.94px;top:1303px;font-size:25.55px;transform:scaleX(1.1366);letter-spacing:0.82px;-webkit-text-stroke:1.02px #141414;">GEMÄß GENEHMIGUNG</div>
<div class="t" style="left:1035.82px;top:1332px;font-size:25.55px;transform:scaleX(1.1859);letter-spacing:0.82px;-webkit-text-stroke:1.02px #141414;">(VLOS / BVLOS)</div>
<div class="t" style="left:1986.31px;top:1280px;font-size:25.69px;transform:scaleX(1.1833);letter-spacing:0.82px;-webkit-text-stroke:1.03px #141414;"><span style="font-weight:700;letter-spacing:0.51px;-webkit-text-stroke:0.64px #141414;">STS</span><span style="font-weight:400;letter-spacing:0.82px;-webkit-text-stroke:1.03px #141414;"> und/oder</span></div>
<div class="t b" style="left:1998.84px;top:1308px;font-size:26.23px;transform:scaleX(1.1259);letter-spacing:0.52px;-webkit-text-stroke:0.66px #141414;">FACHLICHE</div>
<div class="t b" style="left:2005.65px;top:1336px;font-size:26.23px;transform:scaleX(1.0739);letter-spacing:0.52px;-webkit-text-stroke:0.66px #141414;">SCHULUNG</div>
<div class="t b" style="left:297.21px;top:1419px;font-size:47.15px;transform:scaleX(1.0493);letter-spacing:2.45px;-webkit-text-stroke:3.06px #141414;">C0 - C6</div>
<div class="t b" style="left:324.40px;top:1478px;font-size:22.31px;transform:scaleX(1.0838);letter-spacing:1.16px;-webkit-text-stroke:1.45px #141414;">UND ALLE</div>
<div class="t b" style="left:282.15px;top:1503px;font-size:22.31px;transform:scaleX(1.0987);letter-spacing:1.16px;-webkit-text-stroke:1.45px #141414;">DROHNEN OHNE</div>
<div class="t b" style="left:326.41px;top:1528px;font-size:22.31px;transform:scaleX(1.0435);letter-spacing:1.16px;-webkit-text-stroke:1.45px #141414;">C-KLASSE</div>
<div class="t b" style="left:618.04px;top:1428px;font-size:18.59px;transform:scaleX(1.0672);letter-spacing:0.97px;-webkit-text-stroke:1.21px #141414;">JEDER TYP</div>
<div class="t" style="left:617.57px;top:1451px;font-size:17.58px;transform:scaleX(1.2744);letter-spacing:0.56px;-webkit-text-stroke:0.70px #141414;">Bedingung:</div>
<div class="t" style="left:582.57px;top:1471px;font-size:17.58px;transform:scaleX(1.2862);letter-spacing:0.56px;-webkit-text-stroke:0.70px #141414;">Flugdurchführung</div>
<div class="t" style="left:594.63px;top:1492px;font-size:17.58px;transform:scaleX(1.2142);letter-spacing:0.56px;-webkit-text-stroke:0.70px #141414;">durch BOS nach</div>
<div class="t" style="left:570.14px;top:1513px;font-size:17.58px;transform:scaleX(1.2583);letter-spacing:0.56px;-webkit-text-stroke:0.70px #141414;">eigener Prüfung und</div>
<div class="t" style="left:599.65px;top:1533px;font-size:17.58px;transform:scaleX(1.3053);letter-spacing:0.56px;-webkit-text-stroke:0.70px #141414;">Notwendigkeit</div>
<div class="t b" style="left:848.88px;top:1436px;font-size:26.93px;transform:scaleX(1.0913);letter-spacing:0.54px;-webkit-text-stroke:0.67px #141414;">KEIN</div>
<div class="t b" style="left:844.79px;top:1465px;font-size:26.93px;transform:scaleX(1.0643);letter-spacing:0.54px;-webkit-text-stroke:0.67px #141414;">LIMIT</div>
<div class="t" style="left:835.07px;top:1499px;font-size:17.58px;transform:scaleX(1.2879);letter-spacing:0.56px;-webkit-text-stroke:0.70px #141414;">Luftraum</div>
<div class="t" style="left:875.32px;top:1519px;font-size:17.58px;transform:scaleX(1.0435);letter-spacing:0.56px;-webkit-text-stroke:0.70px #141414;">G</div>
<div class="t b" style="left:1085.01px;top:1458px;font-size:25.23px;transform:scaleX(1.0750);letter-spacing:1.31px;-webkit-text-stroke:1.64px #141414;">ERLAUBT</div>
<div class="t" style="left:1067.73px;top:1487px;font-size:25.55px;transform:scaleX(1.1643);letter-spacing:0.82px;-webkit-text-stroke:1.02px #141414;">§21k LuftVO</div>
<div class="t b" style="left:1996.93px;top:1464px;font-size:26.23px;transform:scaleX(1.1489);letter-spacing:0.52px;-webkit-text-stroke:0.66px #141414;">A2 MIT BOS</div>
<div class="t b" style="left:2005.65px;top:1493px;font-size:26.23px;transform:scaleX(1.0739);letter-spacing:0.52px;-webkit-text-stroke:0.66px #141414;">SCHULUNG</div>
<div class="t b w" style="left:55.30px;top:321px;font-size:92.96px;transform:scaleX(1.0805);letter-spacing:4.83px;-webkit-text-stroke:6.04px #fff;">A</div>
<div class="t b w" style="left:131.34px;top:321px;font-size:92.96px;transform:scaleX(0.6877);letter-spacing:4.83px;-webkit-text-stroke:6.04px #fff;">1</div>
<div class="t w" style="left:69.13px;top:430px;font-size:19.44px;transform:scaleX(1.0747);letter-spacing:0.34px;-webkit-text-stroke:0.43px #fff;">OFFENE</div>
<div class="t w" style="left:50.10px;top:455px;font-size:19.44px;transform:scaleX(1.0790);letter-spacing:0.34px;-webkit-text-stroke:0.43px #fff;">KATEGORIE</div>
<div class="t b w" style="left:44.98px;top:566px;font-size:92.03px;transform:scaleX(0.9901);letter-spacing:4.79px;-webkit-text-stroke:5.98px #fff;">A</div>
<div class="t b w" style="left:117.79px;top:566px;font-size:92.03px;transform:scaleX(1.2514);letter-spacing:4.79px;-webkit-text-stroke:5.98px #fff;">2</div>
<div class="t w" style="left:69.12px;top:661px;font-size:19.23px;transform:scaleX(1.0819);letter-spacing:0.62px;-webkit-text-stroke:0.77px #fff;">OFFENE</div>
<div class="t w" style="left:50.33px;top:686px;font-size:19.23px;transform:scaleX(1.0822);letter-spacing:0.62px;-webkit-text-stroke:0.77px #fff;">KATEGORIE</div>
<div class="t b w" style="left:45.00px;top:737px;font-size:92.03px;transform:scaleX(1.0061);letter-spacing:4.79px;-webkit-text-stroke:5.98px #fff;">A</div>
<div class="t b w" style="left:121.16px;top:737px;font-size:92.03px;transform:scaleX(1.1735);letter-spacing:4.79px;-webkit-text-stroke:5.98px #fff;">3</div>
<div class="t w" style="left:69.12px;top:832px;font-size:19.23px;transform:scaleX(1.0819);letter-spacing:0.62px;-webkit-text-stroke:0.77px #fff;">OFFENE</div>
<div class="t w" style="left:50.33px;top:857px;font-size:19.23px;transform:scaleX(1.0822);letter-spacing:0.62px;-webkit-text-stroke:0.77px #fff;">KATEGORIE</div>
<div class="t b w" style="left:31.25px;top:929px;font-size:44.49px;transform:scaleX(1.0184);letter-spacing:2.31px;-webkit-text-stroke:2.89px #fff;">STS 01</div>
<div class="t w" style="left:56.51px;top:985px;font-size:19.23px;transform:scaleX(1.0603);letter-spacing:0.62px;-webkit-text-stroke:0.77px #fff;">SPEZIELLE</div>
<div class="t w" style="left:50.33px;top:1010px;font-size:19.23px;transform:scaleX(1.0857);letter-spacing:0.62px;-webkit-text-stroke:0.77px #fff;">KATEGORIE</div>
<div class="t b w" style="left:25.79px;top:1099px;font-size:44.49px;transform:scaleX(1.0911);letter-spacing:2.31px;-webkit-text-stroke:2.89px #fff;">STS 02</div>
<div class="t w" style="left:56.51px;top:1154px;font-size:19.23px;transform:scaleX(1.0603);letter-spacing:0.62px;-webkit-text-stroke:0.77px #fff;">SPEZIELLE</div>
<div class="t w" style="left:50.33px;top:1179px;font-size:19.23px;transform:scaleX(1.0857);letter-spacing:0.62px;-webkit-text-stroke:0.77px #fff;">KATEGORIE</div>
<div class="t b w" style="left:61.37px;top:1245px;font-size:43.83px;transform:scaleX(1.0896);letter-spacing:2.28px;-webkit-text-stroke:2.85px #fff;">LBA</div>
<div class="t b w" style="left:83.68px;top:1297px;font-size:18.59px;transform:scaleX(1.0616);letter-spacing:0.97px;-webkit-text-stroke:1.21px #fff;">FLUG</div>
<div class="t b w" style="left:50.58px;top:1322px;font-size:18.59px;transform:scaleX(1.0671);letter-spacing:0.97px;-webkit-text-stroke:1.21px #fff;">ERLAUBNIS</div>
<div class="t w" style="left:56.21px;top:1347px;font-size:19.23px;transform:scaleX(1.0575);letter-spacing:0.62px;-webkit-text-stroke:0.77px #fff;">SPEZIELLE</div>
<div class="t w" style="left:50.34px;top:1372px;font-size:19.23px;transform:scaleX(1.0796);letter-spacing:0.62px;-webkit-text-stroke:0.77px #fff;">KATEGORIE</div>
<div class="t b w" style="left:59.40px;top:1422px;font-size:44.09px;transform:scaleX(1.0626);letter-spacing:2.29px;-webkit-text-stroke:2.87px #fff;">BOS</div>
<div class="t b w" style="left:53.57px;top:1479px;font-size:18.59px;transform:scaleX(1.0766);letter-spacing:0.97px;-webkit-text-stroke:1.21px #fff;">RETTUNGS</div>
<div class="t b w" style="left:76.98px;top:1503px;font-size:18.59px;transform:scaleX(1.0564);letter-spacing:0.97px;-webkit-text-stroke:1.21px #fff;">FLÜGE</div>
<div class="t w" style="left:51.42px;top:1528px;font-size:19.23px;transform:scaleX(1.0929);letter-spacing:0.62px;-webkit-text-stroke:0.77px #fff;">AUSNAHME</div>
<div class="t b" style="left:6.81px;top:17px;font-size:41.70px;transform:scaleX(1.0748);letter-spacing:2.17px;-webkit-text-stroke:2.71px #141414;">EU-DROHNEN VERORDNUNG 2025*</div>
<div class="t" style="left:2028.18px;top:23px;font-size:27.06px;transform:scaleX(1.0729);letter-spacing:0.87px;-webkit-text-stroke:1.08px #141414;">ver. 13.02.2024</div>
<div class="t" style="left:7.70px;top:1580px;font-size:21.08px;transform:scaleX(1.1027);letter-spacing:0.00px;">*Es gelten weiterhin die nationalen Verordnungen. Diese Übersicht dient nur als Information und ist keine rechtliche Referenz. Überprüfen Sie alle Vorschriften auf der LBA und / oder EASA-Website (EU-Lex 2019/945).</div>
</div></body></html>
